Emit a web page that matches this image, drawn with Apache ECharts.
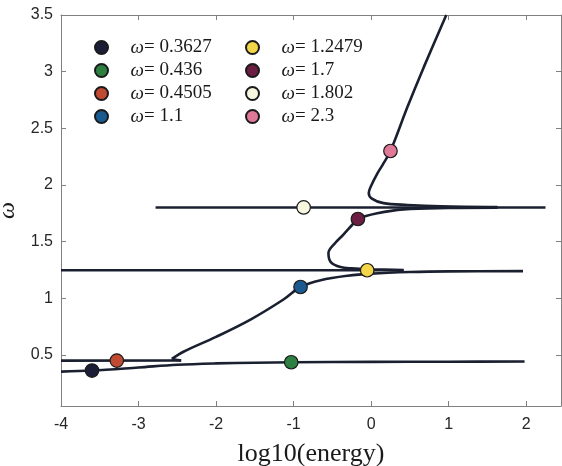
<!DOCTYPE html>
<html>
<head>
<meta charset="utf-8">
<script src="https://cdn.jsdelivr.net/npm/echarts@6/dist/echarts.min.js"></script>
<style>html,body{margin:0;padding:0;background:#fff;}#c{width:562px;height:466px;}</style>
</head>
<body>
<div id="c"></div>
<script>
// ---- data ----
const xTicks = [-4, -3, -2, -1, 0, 1, 2];
const yTicks = [0.5, 1, 1.5, 2, 2.5, 3, 3.5];

const branchA = [[-4, 0.353], [-3.6, 0.3627], [-3, 0.39], [-2.5, 0.414], [-2, 0.426], [-1.5, 0.432], [-1, 0.436], [0, 0.439], [1, 0.441], [1.98, 0.442]];
const branchBFlat = [[-4, 0.4505], [-2.45, 0.452]];
const branchBHook = [[-2.45, 0.452], [-2.52, 0.458], [-2.57, 0.466]];
const branchBRise = [[-2.57, 0.466], [-2.42, 0.529], [-2.0, 0.66], [-1.55, 0.815], [-1.13, 0.99], [-0.91, 1.1], [-0.65, 1.16], [-0.3, 1.2], [0, 1.218], [0.5, 1.232], [1, 1.238], [1.96, 1.24]];
const branchCFlat = [[-4, 1.2479], [0.42, 1.2479]];
const branchCFold = [[0.42, 1.249], [0, 1.256], [-0.25, 1.264], [-0.395, 1.276], [-0.52, 1.32], [-0.55, 1.4], [-0.46, 1.49], [-0.36, 1.56], [-0.245, 1.647], [-0.17, 1.7], [0.08, 1.75], [0.42, 1.785], [1.0, 1.797], [1.63, 1.8]];
const branchDFlat = [[-2.78, 1.802], [2.25, 1.802]];
const branchE = [[0.97, 3.5], [0.68, 3.04], [0.47, 2.69], [0.25, 2.3], [0.16, 2.19], [0.08, 2.1], [-0.008, 1.98], [-0.03, 1.93], [0.01, 1.88], [0.16, 1.84], [0.47, 1.824], [0.9, 1.812], [1.63, 1.805]];

const markerNames = ['0.3627', '0.436', '0.4505', '1.1', '1.2479', '1.7', '1.802', '2.3'];
const markerX = [-3.6, -1.03, -3.28, -0.91, -0.05, -0.17, -0.87, 0.25];
const markerY = [0.3627, 0.436, 0.4505, 1.1, 1.2479, 1.7, 1.802, 2.3];
const markerColors = ['#1b1e36', '#2e8042', '#c04a32', '#1a5a90', '#f2d648', '#6b1e42', '#f7f7df', '#e07898'];

// ---- chart ----
const lineColor = '#1a2030';
const axisColor = '#808080';
const labelFont = 'Liberation Sans';
const serif = 'Liberation Serif';

function curve(data) {
  return {
    type: 'line', data: data, smooth: 0.35, showSymbol: false, silent: true,
    lineStyle: { color: lineColor, width: 2.6 }, z: 2, legendHoverLink: false
  };
}

const series = [
  curve(branchA), curve(branchBFlat), curve(branchBHook), curve(branchBRise),
  curve(branchCFlat), curve(branchCFold), curve(branchDFlat), curve(branchE)
];
markerNames.forEach(function (n, i) {
  series.push({
    type: 'scatter', name: n, data: [[markerX[i], markerY[i]]],
    symbol: 'circle', symbolSize: 13.5, z: 5,
    itemStyle: { color: markerColors[i], borderColor: '#1a1a1a', borderWidth: 1.2, opacity: 1 }
  });
});

const rich = {
  w: { fontFamily: serif, fontStyle: 'italic', fontSize: 19, color: '#1a1a1a' },
  t: { fontFamily: serif, fontSize: 19, color: '#1a1a1a' }
};
function legend(names, left) {
  return {
    data: names, orient: 'vertical', left: left, top: 33,
    itemWidth: 48, itemHeight: 13, itemGap: 4, icon: 'circle',
    selectedMode: false,
    formatter: function (n) { return '{w|ω}{t|= ' + n + '}'; },
    textStyle: { rich: rich }
  };
}

const xBase = {
  type: 'value', min: -4, max: 2.45, interval: 1,
  splitLine: { show: false },
  axisLine: { show: true, onZero: false, lineStyle: { color: axisColor, width: 1 } },
  axisTick: { show: true, inside: true, length: 5, lineStyle: { color: axisColor } }
};
const yBase = {
  type: 'value', min: 0.05, max: 3.5,
  splitLine: { show: false },
  axisLine: { show: true, onZero: false, lineStyle: { color: axisColor, width: 1 } },
  axisTick: { show: true, inside: true, length: 5, customValues: yTicks, lineStyle: { color: axisColor } }
};

const chart = echarts.init(document.getElementById('c'), null, { renderer: 'canvas' });
chart.setOption({
  animation: false,
  backgroundColor: '#fff',
  grid: { left: 61, right: 1, top: 15, bottom: 60, containLabel: false, outerBoundsMode: 'none' },
  legend: [legend(markerNames.slice(0, 4), 89), legend(markerNames.slice(4), 240)],
  xAxis: [
    Object.assign({}, xBase, {
      position: 'bottom',
      name: 'log10(energy)', nameLocation: 'middle', nameGap: 35,
      nameTextStyle: { fontFamily: serif, fontSize: 26, color: '#1a1a1a' },
      axisLabel: { show: true, fontFamily: labelFont, fontSize: 16, color: '#262626', margin: 11,
        customValues: xTicks, formatter: function (v) { return String(v); } }
    }),
    Object.assign({}, xBase, { position: 'top', axisLabel: { show: false } })
  ],
  yAxis: [
    Object.assign({}, yBase, {
      position: 'left',
      name: 'ω', nameLocation: 'middle', nameGap: 31, nameRotate: 90,
      nameTextStyle: { fontFamily: serif, fontStyle: 'italic', fontSize: 24, color: '#1a1a1a' },
      axisLabel: { show: true, fontFamily: labelFont, fontSize: 16, color: '#262626', margin: 8,
        customValues: yTicks, formatter: function (v) { return String(v); } }
    }),
    Object.assign({}, yBase, { position: 'right', axisLabel: { show: false } })
  ],
  series: series
});
</script>
</body>
</html>
